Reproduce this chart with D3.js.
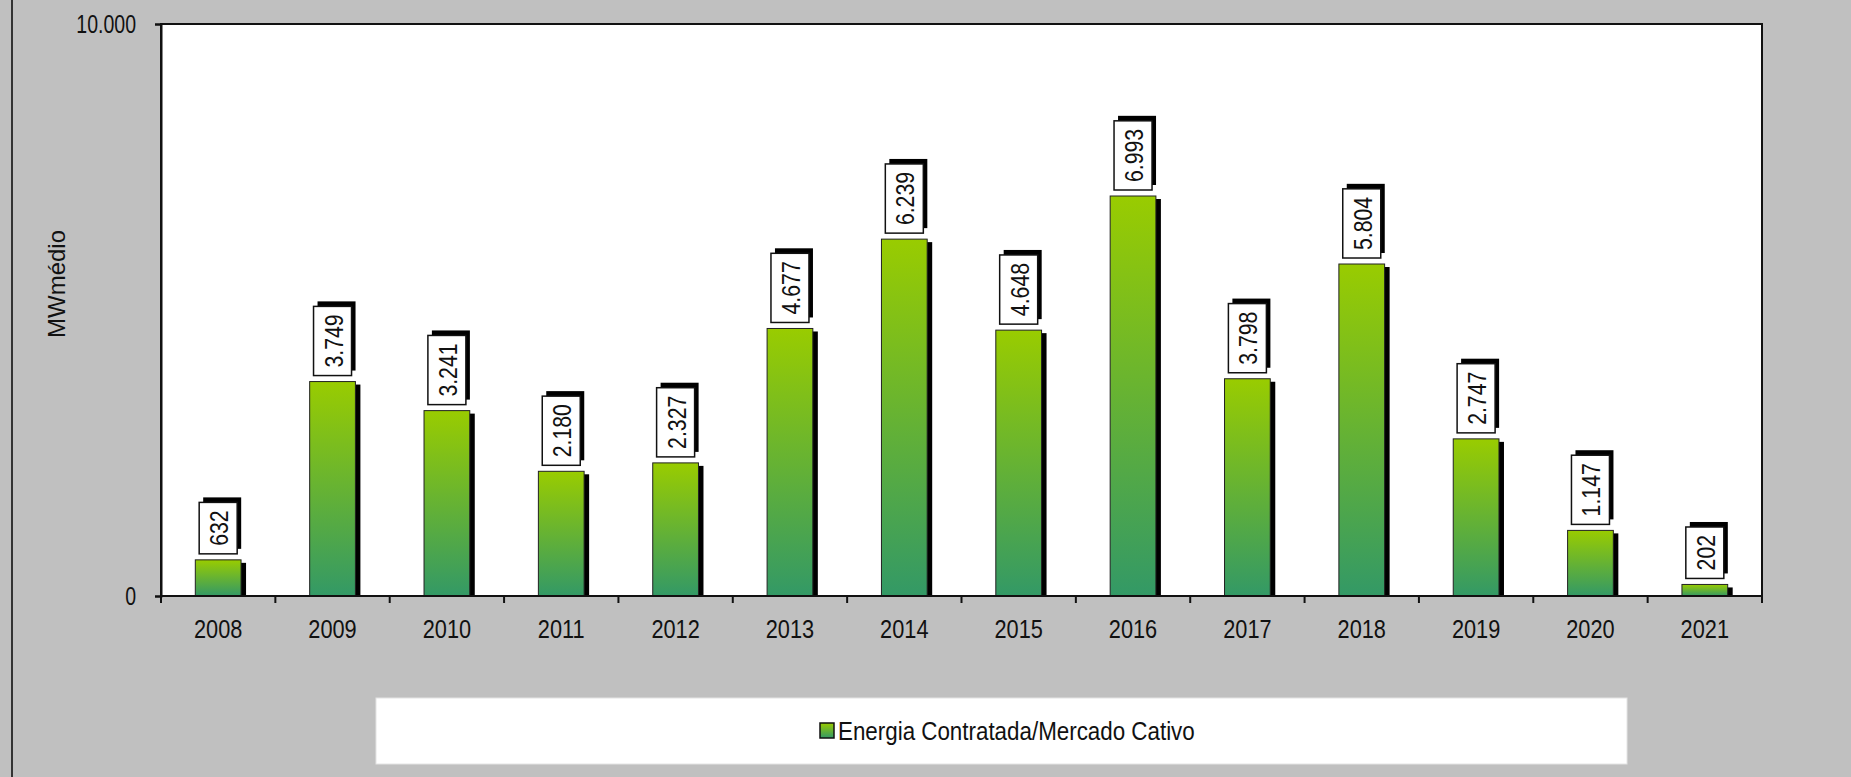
<!DOCTYPE html>
<html>
<head>
<meta charset="utf-8">
<script src="https://cdn.jsdelivr.net/npm/d3@7"></script>
<style>
  html, body { margin: 0; padding: 0; background: #c0c0c0; }
  svg { display: block; }
  text { font-family: "Liberation Sans", Arial, sans-serif; fill: #111; }
</style>
</head>
<body>
<svg id="chart" width="1851" height="777"></svg>
<script>
const years = ['2008', '2009', '2010', '2011', '2012', '2013', '2014', '2015', '2016', '2017', '2018', '2019', '2020', '2021'];
const values = [632, 3749, 3241, 2180, 2327, 4677, 6239, 4648, 6993, 3798, 5804, 2747, 1147, 202];
const yTicks = [0, 10000];
const seriesName = 'Energia Contratada/Mercado Cativo';
const yTitle = 'MWmédio';

const svg = d3.select('#chart');
const W = 1851, H = 777;
const plot = { left: 161, top: 24, right: 1762, bottom: 596 };

const ptBR = d3.formatLocale({ decimal: ',', thousands: '.', grouping: [3], currency: ['R$', ''] });
const fmt = ptBR.format(',d');

// squeeze text horizontally so it looks like the narrow font of the original
function narrow(sel, k) {
    sel.each(function () {
        let len = this.getComputedTextLength();
        d3.select(this).attr('textLength', len * k).attr('lengthAdjust', 'spacingAndGlyphs');
    });
}

const x = d3.scaleBand().domain(years).range([plot.left, plot.right]).paddingInner(0.6).paddingOuter(0.3);
const y = d3.scaleLinear().domain([0, 10000]).range([plot.bottom, plot.top]);

// background
svg.append('rect').attr('width', W).attr('height', H).attr('fill', '#c0c0c0');
svg.append('line').attr('x1', 12).attr('x2', 12).attr('y1', 0).attr('y2', H)
    .attr('stroke', '#333').attr('stroke-width', 2);

// gradient for bars
let defs = svg.append('defs');
let grad = defs.append('linearGradient').attr('id', 'barGrad')
    .attr('x1', 0).attr('y1', 0).attr('x2', 0).attr('y2', 1);
grad.append('stop').attr('offset', '0%').attr('stop-color', '#99cc00');
grad.append('stop').attr('offset', '100%').attr('stop-color', '#339966');

// plot area
svg.append('rect')
    .attr('x', plot.left).attr('y', plot.top)
    .attr('width', plot.right - plot.left).attr('height', plot.bottom - plot.top)
    .attr('fill', '#fff').attr('stroke', '#111').attr('stroke-width', 2);

// bar shadows
svg.append('g').selectAll('rect')
    .data(values)
    .enter()
    .append('rect')
    .attr('x', (d, i) => x(years[i]) + 5)
    .attr('y', d => y(d) + 3)
    .attr('width', x.bandwidth())
    .attr('height', d => Math.max(0, plot.bottom - y(d) - 3))
    .attr('fill', '#000');

// bars
svg.append('g').selectAll('rect')
    .data(values)
    .enter()
    .append('rect')
    .attr('x', (d, i) => x(years[i]))
    .attr('y', d => y(d))
    .attr('width', x.bandwidth())
    .attr('height', d => plot.bottom - y(d))
    .attr('fill', 'url(#barGrad)')
    .attr('stroke', '#222')
    .attr('stroke-width', 1);

// y axis
let yAxis = svg.append('g')
    .attr('transform', `translate(${plot.left},0)`)
    .call(d3.axisLeft(y).tickValues(yTicks).tickFormat(fmt).tickSize(6).tickPadding(19));
yAxis.select('.domain').attr('stroke', '#111').attr('stroke-width', 2);
yAxis.selectAll('.tick line').attr('stroke', '#111').attr('stroke-width', 2);
yAxis.selectAll('text').attr('font-size', 25).attr('fill', '#111')
    .style('font-family', '"Liberation Sans", Arial, sans-serif')
    .call(narrow, 0.78);

// x axis, ticks between categories
let bounds = d3.range(years.length + 1).map(i => plot.left + i * x.step());
let xAxis = svg.append('g').attr('transform', `translate(0,${plot.bottom})`);
xAxis.append('line').attr('x1', plot.left).attr('x2', plot.right)
    .attr('stroke', '#111').attr('stroke-width', 2);
xAxis.selectAll('line.tk')
    .data(bounds)
    .enter()
    .append('line')
    .attr('class', 'tk')
    .attr('x1', d => d).attr('x2', d => d)
    .attr('y1', 0).attr('y2', 7)
    .attr('stroke', '#111').attr('stroke-width', 2);
xAxis.selectAll('text')
    .data(years)
    .enter()
    .append('text')
    .attr('x', d => x(d) + x.bandwidth() / 2)
    .attr('y', 42)
    .attr('text-anchor', 'middle')
    .attr('font-size', 25)
    .text(d => d)
    .call(narrow, 0.87);

// y title
svg.append('text')
    .attr('transform', 'translate(65,284) rotate(-90)')
    .attr('text-anchor', 'middle')
    .attr('font-size', 24)
    .text(yTitle);

// value labels in boxes
let labels = svg.append('g').selectAll('g')
    .data(values)
    .enter()
    .append('g')
    .attr('transform', (d, i) => `translate(${x(years[i]) + x.bandwidth() / 2},${y(d) - 6})`);

labels.each(function (d) {
    let g = d3.select(this);
    let shadow = g.append('rect').attr('fill', '#000');
    let box = g.append('rect').attr('fill', '#fff').attr('stroke', '#111').attr('stroke-width', 1.5);
    let t = g.append('text')
        .attr('text-anchor', 'middle')
        .attr('dy', '0.36em')
        .attr('font-size', 25)
        .text(fmt(d))
        .call(narrow, 0.85);
    let len = +t.attr('textLength');
    let h = len + 16, w = 38;
    box.attr('x', -w / 2).attr('y', -h).attr('width', w).attr('height', h);
    shadow.attr('x', -w / 2 + 4).attr('y', -h - 5).attr('width', w).attr('height', h);
    t.attr('transform', `translate(1,${-h / 2}) rotate(-90)`);
});

// legend
let legend = svg.append('g');
legend.append('rect')
    .attr('x', 376).attr('y', 698).attr('width', 1251).attr('height', 66)
    .attr('fill', '#fff').attr('stroke', '#e4e4e4').attr('stroke-width', 1);
legend.append('rect')
    .attr('x', 820).attr('y', 723).attr('width', 14).attr('height', 15)
    .attr('fill', 'url(#barGrad)').attr('stroke', '#111').attr('stroke-width', 1.5);
legend.append('text')
    .attr('x', 838).attr('y', 731).attr('dy', '0.35em')
    .attr('font-size', 26)
    .text(seriesName)
    .call(narrow, 0.86);
</script>
</body>
</html>
